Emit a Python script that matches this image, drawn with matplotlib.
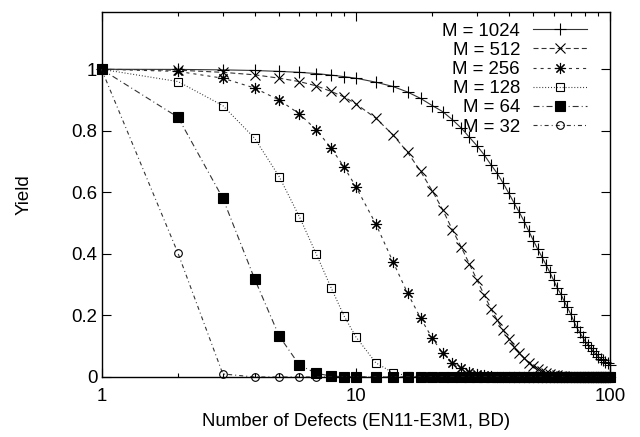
import matplotlib
matplotlib.use('Agg')
import matplotlib.pyplot as plt
from matplotlib.ticker import NullFormatter, LogLocator

plt.rcParams['font.family'] = ['Liberation Sans', 'DejaVu Sans']
plt.rcParams['font.size'] = 13.4
plt.rcParams['lines.scale_dashes'] = False

# number of defects (markers every 1 up to 10, then every 2)
defects = [1, 2, 3, 4, 5, 6, 7, 8, 9, 10,
           12, 14, 16, 18, 20, 22, 24, 26, 28, 30,
           32, 34, 36, 38, 40, 42, 44, 46, 48, 50,
           52, 54, 56, 58, 60, 62, 64, 66, 68, 70,
           72, 74, 76, 78, 80, 82, 84, 86, 88, 90,
           92, 94, 96, 98, 100]

yield_1024 = [1.0, 0.9995, 0.998, 0.996, 0.993, 0.990, 0.986, 0.981, 0.976, 0.971,
              0.958, 0.944, 0.926, 0.905, 0.882, 0.862, 0.836, 0.809, 0.779, 0.751,
              0.722, 0.690, 0.662, 0.630, 0.597, 0.565, 0.535, 0.505, 0.473, 0.443,
              0.415, 0.390, 0.365, 0.340, 0.315, 0.290, 0.270, 0.247, 0.226, 0.205,
              0.182, 0.161, 0.145, 0.130, 0.115, 0.104, 0.093, 0.083, 0.074, 0.066,
              0.060, 0.054, 0.049, 0.045, 0.040]

yield_512 = [1.0, 0.997, 0.990, 0.982, 0.971, 0.960, 0.946, 0.928, 0.910, 0.888,
             0.841, 0.787, 0.730, 0.668, 0.605, 0.543, 0.478, 0.422, 0.367, 0.315,
             0.267, 0.222, 0.185, 0.152, 0.124, 0.099, 0.078, 0.061, 0.047, 0.036,
             0.027, 0.020, 0.014, 0.010, 0.007, 0.005, 0.003, 0.002, 0.001, 0.0,
             0.0, 0.0, 0.0, 0.0, 0.0, 0.0, 0.0, 0.0, 0.0, 0.0,
             0.0, 0.0, 0.0, 0.0, 0.0]

yield_256 = [1.0, 0.993, 0.971, 0.939, 0.900, 0.855, 0.803, 0.744, 0.682, 0.619,
             0.497, 0.375, 0.272, 0.191, 0.126, 0.077, 0.047, 0.028, 0.016, 0.009,
             0.005, 0.002, 0.001, 0.0, 0.0, 0.0, 0.0, 0.0, 0.0, 0.0,
             0.0, 0.0, 0.0, 0.0, 0.0, 0.0, 0.0, 0.0, 0.0, 0.0,
             0.0, 0.0, 0.0, 0.0, 0.0, 0.0, 0.0, 0.0, 0.0, 0.0,
             0.0, 0.0, 0.0, 0.0, 0.0]

yield_128 = [1.0, 0.960, 0.882, 0.776, 0.651, 0.521, 0.399, 0.290, 0.198, 0.131,
             0.046, 0.014, 0.004, 0.001, 0.0, 0.0, 0.0, 0.0, 0.0, 0.0,
             0.0, 0.0, 0.0, 0.0, 0.0, 0.0, 0.0, 0.0, 0.0, 0.0,
             0.0, 0.0, 0.0, 0.0, 0.0, 0.0, 0.0, 0.0, 0.0, 0.0,
             0.0, 0.0, 0.0, 0.0, 0.0, 0.0, 0.0, 0.0, 0.0, 0.0,
             0.0, 0.0, 0.0, 0.0, 0.0]

yield_64 = [1.0, 0.844, 0.581, 0.319, 0.133, 0.039, 0.012, 0.003, 0.001, 0.0,
            0.0, 0.0, 0.0, 0.0, 0.0, 0.0, 0.0, 0.0, 0.0, 0.0,
            0.0, 0.0, 0.0, 0.0, 0.0, 0.0, 0.0, 0.0, 0.0, 0.0,
            0.0, 0.0, 0.0, 0.0, 0.0, 0.0, 0.0, 0.0, 0.0, 0.0,
            0.0, 0.0, 0.0, 0.0, 0.0, 0.0, 0.0, 0.0, 0.0, 0.0,
            0.0, 0.0, 0.0, 0.0, 0.0]

yield_32 = [1.0, 0.402, 0.010, 0.0, 0.0, 0.0, 0.0, 0.0, 0.0, 0.0,
            0.0, 0.0, 0.0, 0.0, 0.0, 0.0, 0.0, 0.0, 0.0, 0.0,
            0.0, 0.0, 0.0, 0.0, 0.0, 0.0, 0.0, 0.0, 0.0, 0.0,
            0.0, 0.0, 0.0, 0.0, 0.0, 0.0, 0.0, 0.0, 0.0, 0.0,
            0.0, 0.0, 0.0, 0.0, 0.0, 0.0, 0.0, 0.0, 0.0, 0.0,
            0.0, 0.0, 0.0, 0.0, 0.0]

labels = ['M = 1024', 'M = 512', 'M = 256', 'M = 128', 'M = 64', 'M = 32']
series = [yield_1024, yield_512, yield_256, yield_128, yield_64, yield_32]

# gnuplot-like line/point styles (open points are not filled)
styles = [
    dict(linestyle='-', marker='+', ms=9, mfc='none'),
    dict(dashes=(3.6, 2.2), marker='x', ms=6.5, mfc='none'),
    dict(dashes=(2.2, 2.9), marker=(8, 2, 0), ms=8, mfc='none'),
    dict(dashes=(0.7, 1.4), marker='s', ms=5.5, mfc='none'),
    dict(dashes=(4.3, 2.2, 0.7, 2.2), marker='s', ms=6.6, mfc='black'),
    dict(dashes=(2.9, 2.2, 0.7, 2.2), marker='o', ms=5.5, mfc='none'),
]

fig = plt.figure(figsize=(6.4, 4.37), dpi=100)
ax = fig.add_axes([0.1586, 0.1373, 0.7945, 0.8352])

for vals, st in zip(series, styles):
    ax.plot(defects, vals, color='0.2', lw=0.8, mec='black', mew=0.8,
            clip_on=False, **st)

# legend, gnuplot style (text right aligned, sample on the right)
leg_y0 = 0.953
dy = 0.0526
for i, (lbl, st) in enumerate(zip(labels, styles)):
    y = leg_y0 - i * dy
    ax.text(0.823, y, lbl, transform=ax.transAxes, ha='right', va='center_baseline')
    ax.plot([0.8486, 0.9017, 0.9548], [y, y, y], transform=ax.transAxes,
            color='0.2', lw=0.8, mec='black', mew=0.8, markevery=[1], **st)

ax.set_xscale('log')
ax.set_xlim(1, 100)
ax.set_ylim(0, 1.186)
ax.set_xticks([1, 10, 100])
ax.set_xticklabels(['1', '10', '100'])
ax.xaxis.set_minor_locator(LogLocator(base=10, subs=[2, 3, 4, 5, 6, 7, 8, 9]))
ax.xaxis.set_minor_formatter(NullFormatter())
ax.set_yticks([0, 0.2, 0.4, 0.6, 0.8, 1.0])
ax.set_yticklabels(['0', '0.2', '0.4', '0.6', '0.8', '1'])

ax.tick_params(which='both', direction='in', top=True, right=True, width=0.8, color='black')
ax.tick_params(which='major', length=6.5)
ax.tick_params(which='minor', length=3)
ax.tick_params(axis='x', pad=8)
ax.tick_params(axis='y', pad=3)
for s in ax.spines.values():
    s.set_linewidth(1.0)

ax.set_xlabel('Number of Defects (EN11-E3M1, BD)', labelpad=6)
ax.set_ylabel('Yield', labelpad=28)

fig.savefig('out.png', dpi=100)
